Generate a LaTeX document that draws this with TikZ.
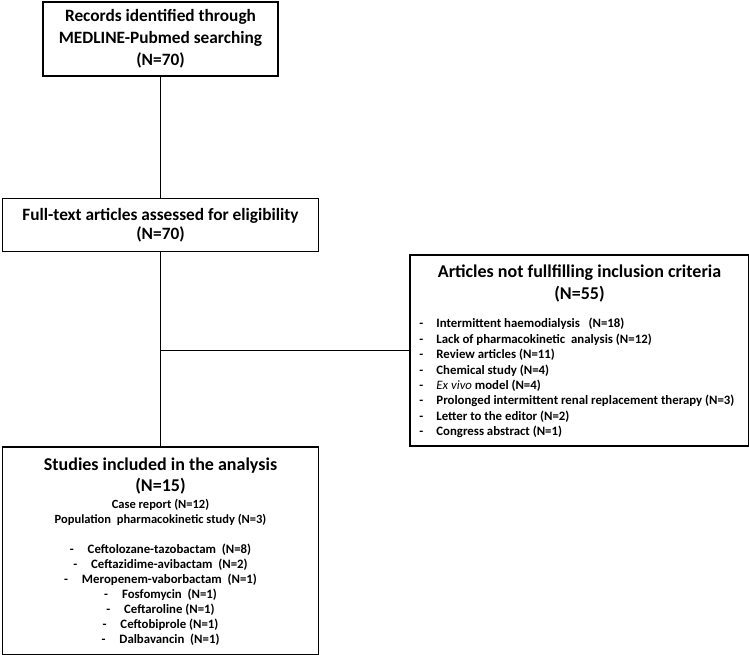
\documentclass[tikz,border=0pt]{standalone}
\usepackage{fontspec}
\setmainfont{Carlito}
\usetikzlibrary{positioning}
\tikzstyle{box} = [rectangle, draw=black, line width=1.5pt, inner sep=0pt]
\tikzstyle{txt} = [inner sep=0pt, align=center]
\tikzstyle{head_big} = [txt, font=\bfseries\fontsize{17.3}{22}\selectfont]
\tikzstyle{head_mid} = [txt, font=\bfseries\fontsize{17.3}{19}\selectfont]
\tikzstyle{head_exc} = [txt, font=\bfseries\fontsize{18}{22}\selectfont]
\tikzstyle{head_inc} = [txt, font=\bfseries\fontsize{18}{21}\selectfont]
\tikzstyle{item} = [txt, font=\bfseries\fontsize{12.8}{15.4}\selectfont]
\tikzstyle{link} = [line width=1.1pt]
\newcommand{\dashitem}{\makebox[17pt][l]{-}}

\begin{document}
\begin{tikzpicture}[x=1pt, y=1pt, node distance = 10pt and 0pt]
      \useasboundingbox (0,0) rectangle (749,-654);

      %%%%%%%%%%%%%%%%%%%%%%%%%%%%%%%%%%%%%%%%%%%%%%%%%
      % MAIN COLUMN
      %%%%%%%%%%%%%%%%%%%%%%%%%%%%%%%%%%%%%%%%%%%%%%%%%
      \node[box, head_big, minimum width=235pt, minimum height=74pt] at (160.5,-39) (REC)
            {Records identified through\\MEDLINE-Pubmed searching\\(N=70)};

      \node[box, head_mid, minimum width=316pt, minimum height=53pt, below= 121pt of REC] (FT)
            {Full-text articles assessed for eligibility\\(N=70)};

      \node[box, minimum width=316pt, minimum height=208pt, below= 194pt of FT] (INC) {};

      % included studies
      \node[head_inc, below= 11pt of INC.north] (INCt) {Studies included in the analysis\\(N=15)};
      \node[item, font=\bfseries\fontsize{12.5}{15}\selectfont, below= 5pt of INCt] (INCs)
            {Case report (N=12)\\Population\ \ pharmacokinetic study (N=3)};
      \node[item, font=\bfseries\fontsize{12.8}{15}\selectfont, below= 18pt of INCs] (INCl)
            {-\hspace{14pt}Ceftolozane-tazobactam\ \ (N=8)\\
             -\hspace{14pt}Ceftazidime-avibactam\ \ (N=2)\\
             -\hspace{14pt}Meropenem-vaborbactam\ \ (N=1)\\
             -\hspace{14pt}Fosfomycin\ \ (N=1)\\
             -\hspace{14pt}Ceftaroline\ (N=1)\\
             -\hspace{14pt}Ceftobiprole (N=1)\\
             -\hspace{14pt}Dalbavancin\ \ (N=1)};

      %%%%%%%%%%%%%%%%%%%%%%%%%%%%%%%%%%%%%%%%%%%%%%%%%
      % EXCLUDED
      %%%%%%%%%%%%%%%%%%%%%%%%%%%%%%%%%%%%%%%%%%%%%%%%%
      \node[box, minimum width=339pt, minimum height=191pt, below right= 2pt and 90pt of FT.south east] (EXC) {};

      \node[head_exc, below= 10pt of EXC.north] (EXCt) {Articles not fullfilling inclusion criteria\\(N=55)};
      \node[item, align=left, below right= 64pt and 10pt of EXC.north west] (EXCl)
            {\dashitem Intermittent haemodialysis\ \ \ (N=18)\\
             \dashitem Lack of pharmacokinetic\ \ analysis (N=12)\\
             \dashitem Review articles (N=11)\\
             \dashitem Chemical study (N=4)\\
             \dashitem \textnormal{\textit{Ex vivo}} model (N=4)\\
             \dashitem Prolonged intermittent renal replacement therapy (N=3)\\
             \dashitem Letter to the editor (N=2)\\
             \dashitem Congress abstract (N=1)};

      %%%%%%%%%%%%%%%%%%%%%%%%%%%%%%%%%%%%%%%%%%%%%%%%%
      % CONNECTORS
      %%%%%%%%%%%%%%%%%%%%%%%%%%%%%%%%%%%%%%%%%%%%%%%%%
      \draw[link] (REC) -- (FT);
      \draw[link] (FT) -- (INC);
      \draw[link] (EXC.west) -- (EXC.west -| FT.south);
\end{tikzpicture}
\end{document}
